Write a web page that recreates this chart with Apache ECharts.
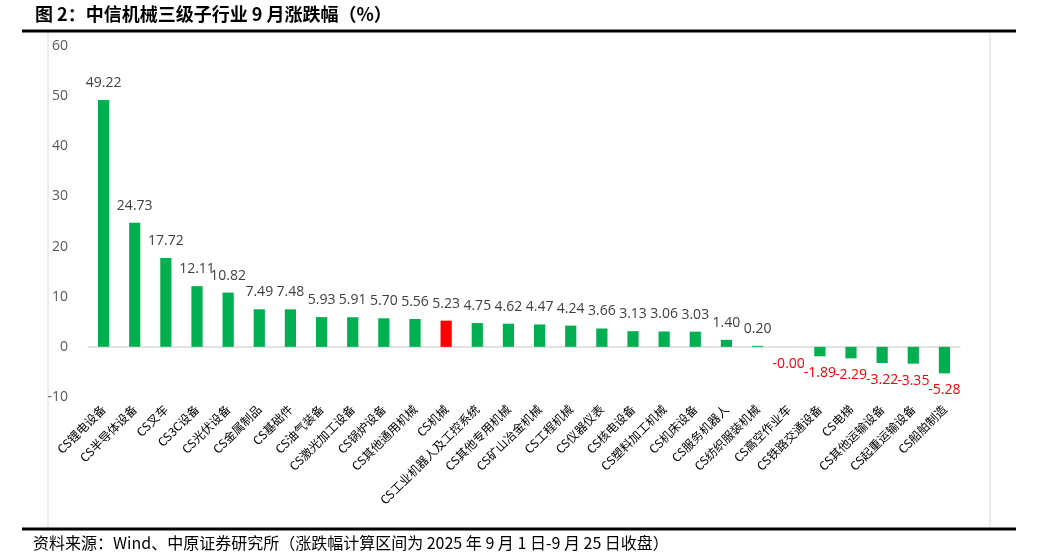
<!DOCTYPE html>
<html><head><meta charset="utf-8">
<script src="https://cdn.jsdelivr.net/npm/echarts@6/dist/echarts.min.js"></script>
<style>html,body{margin:0;padding:0;background:#fff}#c{width:1048px;height:559px}</style>
</head><body><div id="c"></div>
<script>
const categories = ["CS锂电设备","CS半导体设备","CS叉车","CS3C设备","CS光伏设备","CS金属制品","CS基础件","CS油气装备","CS激光加工设备","CS锅炉设备","CS其他通用机械","CS机械","CS工业机器人及工控系统","CS其他专用机械","CS矿山冶金机械","CS工程机械","CS仪器仪表","CS核电设备","CS塑料加工机械","CS机床设备","CS服务机器人","CS纺织服装机械","CS高空作业车","CS铁路交通设备","CS电梯","CS其他运输设备","CS起重运输设备","CS船舶制造"];
const values = [49.22,24.73,17.72,12.11,10.82,7.49,7.48,5.93,5.91,5.70,5.56,5.23,4.75,4.62,4.47,4.24,3.66,3.13,3.06,3.03,1.40,0.20,-0.001,-1.89,-2.29,-3.22,-3.35,-5.28];
const highlight = "CS机械";
const yTicks = {min:-10, max:60, interval:10};

const data = values.map((v,i)=>{
  const neg = v < 0;
  const item = {value:v, itemStyle:{color: categories[i]===highlight ? '#FF0000' : '#00B050'}};
  item.label = {show:true, position: neg ? 'bottom' : 'top', color: neg ? '#FF0000' : '#404040',
    formatter: ()=> v.toFixed(2)};
  return item;
});
const chart = echarts.init(document.getElementById('c'));
chart.setOption({
  animation:false,
  grid:{left:88, right:88, top:46, bottom:162},
  graphic:[
    {type:'text', left:35, top:5, style:{text:'图 2：中信机械三级子行业 9 月涨跌幅（%）', font:'bold 18px "Noto Sans CJK SC"', fill:'#000'}},
    {type:'line', shape:{x1:22,y1:31,x2:1016,y2:31}, style:{stroke:'#000', lineWidth:3}},
    {type:'line', shape:{x1:48,y1:33,x2:48,y2:527}, style:{stroke:'#d9d9d9', lineWidth:1}},
    {type:'line', shape:{x1:990,y1:33,x2:990,y2:527}, style:{stroke:'#d9d9d9', lineWidth:1}},
    {type:'line', shape:{x1:22,y1:529,x2:1016,y2:529}, style:{stroke:'#000', lineWidth:3}},
    {type:'text', left:33, top:535, style:{text:'资料来源：Wind、中原证券研究所（涨跌幅计算区间为 2025 年 9 月 1 日-9 月 25 日收盘）', font:'16px "Noto Sans CJK SC"', fill:'#000'}}
  ],
  xAxis:{type:'category', data:categories,
    axisLine:{lineStyle:{color:'#d9d9d9', width:1.5}}, axisTick:{show:false},
    axisLabel:{rotate:45, interval:0, fontSize:12, color:'#000', fontFamily:'"Noto Sans CJK SC"', margin:10}},
  yAxis:{type:'value', min:yTicks.min, max:yTicks.max, interval:yTicks.interval,
    splitLine:{show:false}, axisLine:{show:false}, axisTick:{show:false},
    axisLabel:{fontSize:14, color:'#595959', margin:20, fontFamily:'"Open Sans", sans-serif'}},
  series:[{type:'bar', data:data, barWidth:'36%',
    label:{fontSize:14, fontFamily:'"Open Sans", sans-serif', distance:10}}]
});
</script></body></html>
